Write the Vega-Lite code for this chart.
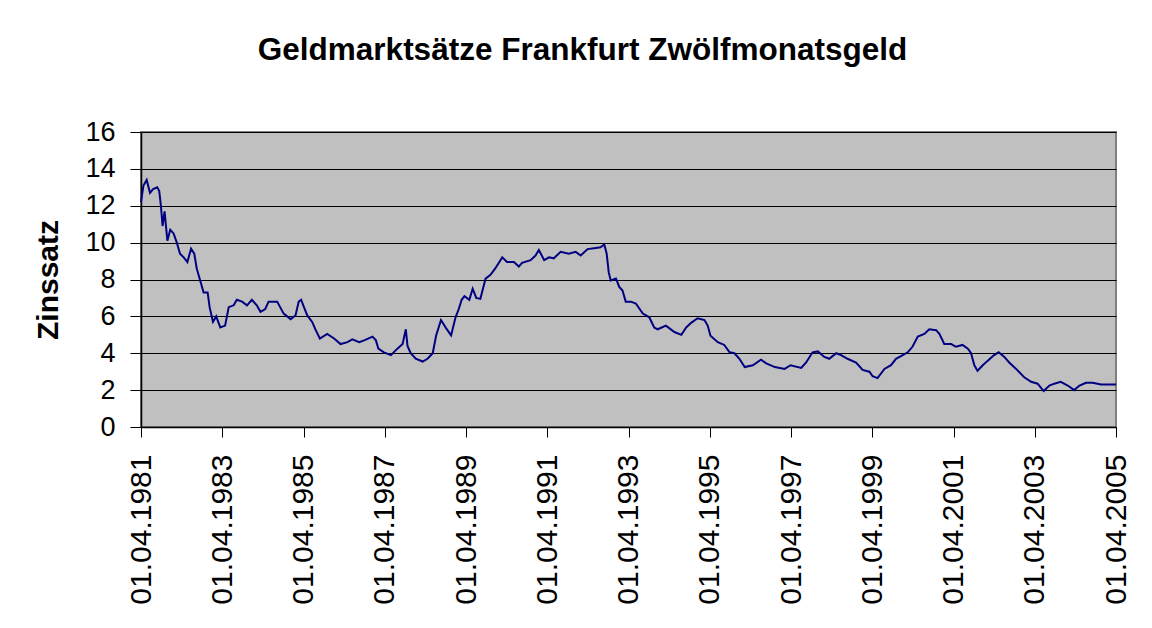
{
  "$schema": "https://vega.github.io/schema/vega-lite/v6.json",
  "width": 975,
  "height": 295,
  "autosize": {"type": "none"},
  "padding": {"left": 141, "top": 132, "right": 36, "bottom": 201},
  "background": "white",
  "title": {
    "text": "Geldmarktsätze Frankfurt Zwölfmonatsgeld",
    "font": "Liberation Sans",
    "fontSize": 31.5,
    "fontWeight": "bold",
    "color": "black",
    "anchor": "middle",
    "dx": -46,
    "offset": 52
  },
  "config": {
    "view": {"fill": "#C0C0C0", "stroke": "#808080", "strokeWidth": 2},
    "font": "Liberation Sans"
  },
  "data": {
    "values": [
      {"d": "1981-04-01", "v": 12.2}, {"d": "1981-04-23", "v": 13.1}, {"d": "1981-05-22", "v": 13.4},
      {"d": "1981-06-21", "v": 12.7}, {"d": "1981-07-19", "v": 12.9}, {"d": "1981-08-25", "v": 13.0},
      {"d": "1981-09-12", "v": 12.8}, {"d": "1981-09-27", "v": 12.0}, {"d": "1981-10-12", "v": 10.9},
      {"d": "1981-10-30", "v": 11.7}, {"d": "1981-11-24", "v": 10.1}, {"d": "1981-12-20", "v": 10.7},
      {"d": "1982-01-19", "v": 10.5}, {"d": "1982-02-17", "v": 10.0}, {"d": "1982-03-18", "v": 9.4},
      {"d": "1982-04-20", "v": 9.2}, {"d": "1982-05-23", "v": 8.95}, {"d": "1982-06-25", "v": 9.67},
      {"d": "1982-07-24", "v": 9.4}, {"d": "1982-08-15", "v": 8.6}, {"d": "1982-09-17", "v": 7.9},
      {"d": "1982-10-16", "v": 7.3}, {"d": "1982-11-21", "v": 7.3}, {"d": "1982-12-09", "v": 6.5},
      {"d": "1983-01-08", "v": 5.7}, {"d": "1983-02-06", "v": 6.0}, {"d": "1983-03-15", "v": 5.4},
      {"d": "1983-04-27", "v": 5.5}, {"d": "1983-05-30", "v": 6.5}, {"d": "1983-07-13", "v": 6.6},
      {"d": "1983-08-11", "v": 6.9}, {"d": "1983-09-27", "v": 6.8}, {"d": "1983-11-10", "v": 6.6},
      {"d": "1983-12-24", "v": 6.9}, {"d": "1984-02-06", "v": 6.6}, {"d": "1984-03-10", "v": 6.25},
      {"d": "1984-04-22", "v": 6.4}, {"d": "1984-05-22", "v": 6.8}, {"d": "1984-08-07", "v": 6.8},
      {"d": "1984-10-05", "v": 6.15}, {"d": "1984-12-06", "v": 5.85}, {"d": "1985-01-19", "v": 6.05},
      {"d": "1985-02-17", "v": 6.8}, {"d": "1985-03-11", "v": 6.9}, {"d": "1985-04-05", "v": 6.5},
      {"d": "1985-05-05", "v": 6.05}, {"d": "1985-06-18", "v": 5.7}, {"d": "1985-07-20", "v": 5.25},
      {"d": "1985-08-26", "v": 4.8}, {"d": "1985-10-31", "v": 5.05}, {"d": "1986-01-01", "v": 4.8},
      {"d": "1986-02-28", "v": 4.5}, {"d": "1986-05-01", "v": 4.6}, {"d": "1986-06-14", "v": 4.75},
      {"d": "1986-08-15", "v": 4.6}, {"d": "1986-09-28", "v": 4.7}, {"d": "1986-12-13", "v": 4.9},
      {"d": "1987-01-12", "v": 4.7}, {"d": "1987-02-03", "v": 4.25}, {"d": "1987-03-25", "v": 4.05},
      {"d": "1987-05-27", "v": 3.9}, {"d": "1987-07-24", "v": 4.25}, {"d": "1987-09-09", "v": 4.5},
      {"d": "1987-10-08", "v": 5.3}, {"d": "1987-10-23", "v": 4.4}, {"d": "1987-11-21", "v": 4.0},
      {"d": "1988-01-05", "v": 3.7}, {"d": "1988-03-07", "v": 3.55}, {"d": "1988-04-20", "v": 3.7},
      {"d": "1988-06-06", "v": 4.0}, {"d": "1988-07-06", "v": 4.95}, {"d": "1988-08-19", "v": 5.8},
      {"d": "1988-10-05", "v": 5.35}, {"d": "1988-11-18", "v": 4.97}, {"d": "1988-12-28", "v": 5.95},
      {"d": "1989-01-26", "v": 6.4}, {"d": "1989-02-21", "v": 6.9}, {"d": "1989-03-18", "v": 7.1},
      {"d": "1989-05-01", "v": 6.9}, {"d": "1989-05-31", "v": 7.5}, {"d": "1989-07-02", "v": 7.0},
      {"d": "1989-08-08", "v": 6.95}, {"d": "1989-09-24", "v": 8.05}, {"d": "1989-11-07", "v": 8.25},
      {"d": "1989-12-20", "v": 8.6}, {"d": "1990-02-21", "v": 9.2}, {"d": "1990-04-05", "v": 8.95},
      {"d": "1990-06-06", "v": 8.95}, {"d": "1990-07-20", "v": 8.7}, {"d": "1990-08-18", "v": 8.9},
      {"d": "1990-11-03", "v": 9.05}, {"d": "1990-12-17", "v": 9.3}, {"d": "1991-01-16", "v": 9.6},
      {"d": "1991-03-05", "v": 9.05}, {"d": "1991-04-17", "v": 9.2}, {"d": "1991-05-30", "v": 9.15},
      {"d": "1991-07-31", "v": 9.5}, {"d": "1991-10-12", "v": 9.4}, {"d": "1991-12-13", "v": 9.5},
      {"d": "1992-01-27", "v": 9.3}, {"d": "1992-03-29", "v": 9.65}, {"d": "1992-05-27", "v": 9.7},
      {"d": "1992-07-24", "v": 9.75}, {"d": "1992-08-26", "v": 9.9}, {"d": "1992-09-17", "v": 9.4},
      {"d": "1992-10-05", "v": 8.4}, {"d": "1992-10-23", "v": 7.95}, {"d": "1992-12-09", "v": 8.05},
      {"d": "1993-01-08", "v": 7.6}, {"d": "1993-02-06", "v": 7.4}, {"d": "1993-03-07", "v": 6.8},
      {"d": "1993-04-23", "v": 6.8}, {"d": "1993-06-06", "v": 6.7}, {"d": "1993-08-08", "v": 6.15},
      {"d": "1993-10-05", "v": 5.95}, {"d": "1993-11-18", "v": 5.4}, {"d": "1993-12-20", "v": 5.3},
      {"d": "1994-03-03", "v": 5.5}, {"d": "1994-05-19", "v": 5.15}, {"d": "1994-07-20", "v": 5.0},
      {"d": "1994-09-02", "v": 5.4}, {"d": "1994-10-16", "v": 5.65}, {"d": "1994-12-13", "v": 5.9},
      {"d": "1995-02-13", "v": 5.8}, {"d": "1995-03-14", "v": 5.5}, {"d": "1995-04-08", "v": 4.95},
      {"d": "1995-06-13", "v": 4.6}, {"d": "1995-08-10", "v": 4.45}, {"d": "1995-09-27", "v": 4.05},
      {"d": "1995-11-10", "v": 4.0}, {"d": "1995-12-24", "v": 3.7}, {"d": "1996-02-10", "v": 3.25},
      {"d": "1996-04-23", "v": 3.35}, {"d": "1996-07-05", "v": 3.65}, {"d": "1996-08-22", "v": 3.45},
      {"d": "1996-11-07", "v": 3.25}, {"d": "1997-02-03", "v": 3.15}, {"d": "1997-03-28", "v": 3.35},
      {"d": "1997-07-02", "v": 3.2}, {"d": "1997-08-15", "v": 3.5}, {"d": "1997-10-12", "v": 4.05},
      {"d": "1997-11-28", "v": 4.1}, {"d": "1998-01-26", "v": 3.8}, {"d": "1998-03-11", "v": 3.7},
      {"d": "1998-05-12", "v": 4.0}, {"d": "1998-06-25", "v": 3.9}, {"d": "1998-08-22", "v": 3.7},
      {"d": "1998-11-07", "v": 3.5}, {"d": "1999-01-05", "v": 3.1}, {"d": "1999-03-07", "v": 3.0},
      {"d": "1999-04-05", "v": 2.75}, {"d": "1999-05-19", "v": 2.65}, {"d": "1999-07-20", "v": 3.15},
      {"d": "1999-09-17", "v": 3.35}, {"d": "1999-11-01", "v": 3.7}, {"d": "2000-01-01", "v": 3.9},
      {"d": "2000-02-14", "v": 4.05}, {"d": "2000-03-28", "v": 4.35}, {"d": "2000-05-15", "v": 4.9},
      {"d": "2000-07-13", "v": 5.05}, {"d": "2000-08-26", "v": 5.3}, {"d": "2000-10-27", "v": 5.25},
      {"d": "2000-11-25", "v": 5.05}, {"d": "2001-01-08", "v": 4.5}, {"d": "2001-03-11", "v": 4.5},
      {"d": "2001-04-23", "v": 4.35}, {"d": "2001-06-21", "v": 4.45}, {"d": "2001-08-08", "v": 4.25},
      {"d": "2001-09-06", "v": 4.0}, {"d": "2001-10-05", "v": 3.35}, {"d": "2001-11-03", "v": 3.05},
      {"d": "2001-12-20", "v": 3.35}, {"d": "2002-02-03", "v": 3.6}, {"d": "2002-04-01", "v": 3.9},
      {"d": "2002-05-12", "v": 4.05}, {"d": "2002-07-02", "v": 3.8}, {"d": "2002-08-15", "v": 3.5},
      {"d": "2002-10-16", "v": 3.15}, {"d": "2002-12-28", "v": 2.7}, {"d": "2003-02-28", "v": 2.45},
      {"d": "2003-04-27", "v": 2.35}, {"d": "2003-06-21", "v": 1.95}, {"d": "2003-08-11", "v": 2.25},
      {"d": "2003-09-24", "v": 2.35}, {"d": "2003-11-21", "v": 2.45}, {"d": "2004-01-23", "v": 2.25},
      {"d": "2004-03-21", "v": 2.0}, {"d": "2004-05-08", "v": 2.25}, {"d": "2004-07-06", "v": 2.4},
      {"d": "2004-09-02", "v": 2.4}, {"d": "2004-11-18", "v": 2.3}, {"d": "2005-04-01", "v": 2.3}
    ]
  },
  "mark": {"type": "line", "color": "#000080", "strokeWidth": 2},
  "encoding": {
    "x": {
      "field": "d",
      "type": "temporal",
      "scale": {
        "type": "utc",
        "domain": [
          {"year": 1981, "month": 4, "date": 1, "utc": true},
          {"year": 2005, "month": 4, "date": 1, "utc": true}
        ]
      },
      "axis": {
        "title": null,
        "grid": false,
        "format": "%d.%m.%Y",
        "values": [
          {"year": 1981, "month": 4, "date": 1, "utc": true},
          {"year": 1983, "month": 4, "date": 1, "utc": true},
          {"year": 1985, "month": 4, "date": 1, "utc": true},
          {"year": 1987, "month": 4, "date": 1, "utc": true},
          {"year": 1989, "month": 4, "date": 1, "utc": true},
          {"year": 1991, "month": 4, "date": 1, "utc": true},
          {"year": 1993, "month": 4, "date": 1, "utc": true},
          {"year": 1995, "month": 4, "date": 1, "utc": true},
          {"year": 1997, "month": 4, "date": 1, "utc": true},
          {"year": 1999, "month": 4, "date": 1, "utc": true},
          {"year": 2001, "month": 4, "date": 1, "utc": true},
          {"year": 2003, "month": 4, "date": 1, "utc": true},
          {"year": 2005, "month": 4, "date": 1, "utc": true}
        ],
        "labelAngle": -90,
        "labelAlign": "right",
        "labelBaseline": "middle",
        "labelFont": "Liberation Sans",
        "labelFontSize": 30,
        "labelColor": "black",
        "labelPadding": 17,
        "labelOverlap": false,
        "labelFlush": false,
        "tickSize": 10,
        "tickColor": "black",
        "domainColor": "black",
        "domainWidth": 1.5
      }
    },
    "y": {
      "field": "v",
      "type": "quantitative",
      "scale": {"domain": [0, 16], "nice": false, "zero": true},
      "axis": {
        "title": "Zinssatz",
        "titleFont": "Liberation Sans",
        "titleFontSize": 30,
        "titleFontWeight": "bold",
        "titleColor": "black",
        "titleX": -78,
        "values": [0, 2, 4, 6, 8, 10, 12, 14, 16],
        "grid": true,
        "gridColor": "black",
        "gridWidth": 1.2,
        "labelFont": "Liberation Sans",
        "labelFontSize": 27,
        "labelColor": "black",
        "labelPadding": 15,
        "labelOverlap": false,
        "labelFlush": false,
        "tickSize": 11,
        "tickColor": "black",
        "domainColor": "black",
        "domainWidth": 1.5
      }
    }
  }
}
